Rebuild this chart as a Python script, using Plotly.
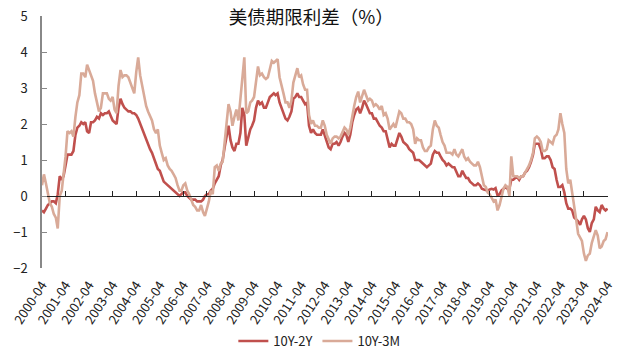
import plotly.graph_objects as go
import pandas as pd

# Monthly observations, 2000-04 .. 2024-04
dates = pd.date_range("2000-04-01", "2024-04-01", freq="MS")

spread_10y2y = [
    # 2000 Apr-Dec
    -0.40, -0.45, -0.35, -0.25, -0.20, -0.15, -0.15, -0.20, 0.05,
    # 2001
    0.55, 0.45, 0.55, 0.85, 1.15, 1.15, 1.15, 1.25, 1.70, 1.90, 1.95, 2.05,
    # 2002
    2.00, 2.05, 1.80, 1.75, 2.05, 2.05, 2.10, 2.20, 2.15, 2.30, 2.25, 2.30,
    # 2003
    2.30, 2.35, 2.25, 2.10, 2.05, 2.00, 2.45, 2.70, 2.55, 2.45, 2.40, 2.35,
    # 2004
    2.35, 2.30, 2.30, 2.25, 2.15, 2.00, 1.85, 1.75, 1.55, 1.45, 1.30, 1.20,
    # 2005
    1.05, 0.85, 0.75, 0.70, 0.55, 0.40, 0.35, 0.30, 0.25, 0.20, 0.15, 0.10,
    # 2006
    0.05, 0.00, 0.05, 0.10, 0.10, 0.00, -0.05, -0.10, -0.10, -0.10, -0.15, -0.15,
    # 2007
    -0.15, -0.10, 0.00, 0.05, 0.05, 0.15, 0.20, 0.35, 0.45, 0.55, 0.85, 1.00,
    # 2008
    1.35, 1.65, 1.95, 1.55, 1.35, 1.25, 1.45, 1.45, 1.75, 2.45, 2.25, 1.40,
    # 2009
    1.65, 1.85, 1.95, 2.10, 2.45, 2.65, 2.55, 2.60, 2.45, 2.45, 2.60, 2.75,
    # 2010
    2.80, 2.85, 2.80, 2.85, 2.60, 2.45, 2.35, 2.15, 2.10, 2.20, 2.35, 2.70,
    # 2011
    2.75, 2.85, 2.75, 2.75, 2.65, 2.55, 2.60, 1.95, 1.75, 1.85, 1.75, 1.70,
    # 2012
    1.70, 1.70, 1.85, 1.70, 1.50, 1.35, 1.30, 1.45, 1.45, 1.50, 1.40, 1.50,
    # 2013
    1.65, 1.75, 1.70, 1.50, 1.70, 2.05, 2.25, 2.40, 2.45, 2.30, 2.45, 2.65,
    # 2014
    2.55, 2.40, 2.30, 2.30, 2.15, 2.15, 2.05, 1.95, 1.90, 1.80, 1.80, 1.60,
    # 2015
    1.35, 1.45, 1.40, 1.40, 1.60, 1.75, 1.65, 1.50, 1.45, 1.40, 1.30, 1.25,
    # 2016
    1.20, 1.00, 1.00, 1.00, 0.95, 0.90, 0.85, 0.80, 0.85, 0.90, 1.15, 1.25,
    # 2017
    1.20, 1.20, 1.10, 1.00, 0.95, 0.85, 0.90, 0.85, 0.80, 0.80, 0.65, 0.55,
    # 2018
    0.55, 0.70, 0.60, 0.50, 0.50, 0.40, 0.35, 0.30, 0.30, 0.35, 0.30, 0.20,
    # 2019
    0.18, 0.17, 0.15, 0.18, 0.20, 0.18, 0.22, 0.02, 0.05, 0.15, 0.20, 0.25,
    # 2020
    0.20, 0.20, 0.45, 0.45, 0.50, 0.52, 0.45, 0.55, 0.55, 0.65, 0.70, 0.80,
    # 2021
    0.95, 1.15, 1.45, 1.45, 1.45, 1.30, 1.05, 1.05, 1.10, 1.10, 1.00, 0.80,
    # 2022
    0.75, 0.45, 0.25, 0.25, 0.30, 0.10, -0.20, -0.35, -0.35, -0.40, -0.60, -0.65,
    # 2023
    -0.70, -0.80, -0.65, -0.55, -0.65, -0.90, -1.00, -0.75, -0.65, -0.30, -0.40, -0.45,
    # 2024 Jan-Apr
    -0.25, -0.35, -0.40, -0.35,
]

spread_10y3m = [
    # 2000 Apr-Dec
    0.30, 0.60, 0.35, 0.10, -0.20, -0.30, -0.50, -0.60, -0.90,
    # 2001
    0.00, 0.15, 0.60, 1.10, 1.80, 1.75, 1.80, 1.65, 2.20, 2.60, 2.80, 3.40,
    # 2002
    3.40, 3.30, 3.65, 3.50, 3.40, 3.20, 2.85, 2.60, 2.35, 2.45, 2.85, 2.85,
    # 2003
    2.85, 2.70, 2.65, 2.75, 2.40, 2.30, 3.05, 3.50, 3.30, 3.35, 3.35, 3.30,
    # 2004
    3.15, 3.05, 2.85, 3.45, 3.85, 3.35, 3.05, 2.80, 2.50, 2.35, 2.20, 2.10,
    # 2005
    1.85, 1.75, 1.85, 1.40, 1.20, 1.00, 1.05, 0.85, 0.75, 0.70, 0.60, 0.50,
    # 2006
    0.30, 0.15, 0.15, 0.30, 0.35, 0.15, 0.05, -0.10, -0.25, -0.30, -0.40, -0.40,
    # 2007
    -0.25, -0.45, -0.55, -0.35, -0.15, 0.15, 0.05, 0.80, 0.85, 0.70, 0.90, 0.95,
    # 2008
    1.55, 2.10, 2.55, 2.35, 1.95, 2.20, 2.40, 2.10, 2.75, 3.40, 3.85, 2.30,
    # 2009
    2.35, 2.60, 2.65, 2.75, 3.15, 3.60, 3.35, 3.40, 3.30, 3.25, 3.30, 3.55,
    # 2010
    3.75, 3.70, 3.75, 3.80, 3.30, 3.10, 2.85, 2.60, 2.60, 2.45, 2.65, 3.15,
    # 2011
    3.35, 3.55, 3.30, 3.35, 3.10, 2.95, 2.95, 2.25, 2.00, 2.10, 1.95, 1.95,
    # 2012
    1.90, 1.90, 2.10, 1.95, 1.70, 1.55, 1.45, 1.60, 1.65, 1.65, 1.60, 1.65,
    # 2013
    1.80, 1.90, 1.85, 1.70, 1.90, 2.25, 2.50, 2.75, 2.90, 2.60, 2.75, 2.95,
    # 2014
    2.80, 2.65, 2.70, 2.65, 2.50, 2.55, 2.50, 2.40, 2.50, 2.25, 2.30, 2.15,
    # 2015
    1.85, 1.95, 2.00, 1.90, 2.15, 2.35, 2.30, 2.15, 2.15, 2.05, 2.05, 2.00,
    # 2016
    1.85, 1.45, 1.60, 1.55, 1.55, 1.35, 1.25, 1.25, 1.35, 1.40, 1.85, 2.10,
    # 2017
    1.95, 1.90, 1.70, 1.50, 1.40, 1.20, 1.20, 1.20, 1.15, 1.30, 1.15, 1.10,
    # 2018
    1.20, 1.30, 1.10, 1.00, 1.05, 0.95, 0.90, 0.85, 0.85, 0.95, 0.80, 0.50,
    # 2019
    0.30, 0.25, 0.10, 0.05, -0.05, -0.15, -0.10, -0.40, -0.25, -0.05, 0.20, 0.30,
    # 2020
    0.25, 0.00, 1.10, 0.55, 0.55, 0.55, 0.50, 0.55, 0.55, 0.65, 0.75, 0.85,
    # 2021
    1.00, 1.20, 1.60, 1.65, 1.60, 1.50, 1.25, 1.25, 1.30, 1.55, 1.50, 1.45,
    # 2022
    1.65, 1.70, 1.85, 2.30, 2.00, 1.75, 0.75, 0.35, 0.45, 0.05, -0.40, -0.65,
    # 2023
    -1.05, -1.15, -1.25, -1.60, -1.80, -1.65, -1.60, -1.30, -1.15, -0.95, -1.10, -1.45,
    # 2024 Jan-Apr
    -1.40, -1.25, -1.20, -1.00,
]

tick_dates = pd.date_range("2000-04-01", "2024-04-01", freq="12MS")
tick_labels = [d.strftime("%Y-%m") for d in tick_dates]

FONT = "Noto Sans CJK SC"
RED = "#C0504D"
PINK = "#D9AA98"

fig = go.Figure()
fig.add_trace(go.Scatter(x=dates, y=spread_10y2y, name="10Y-2Y", mode="lines",
                         line=dict(color=RED, width=2.6)))
fig.add_trace(go.Scatter(x=dates, y=spread_10y3m, name="10Y-3M", mode="lines",
                         line=dict(color=PINK, width=2.6)))
# invisible carrier for the zero-line axis
fig.add_trace(go.Scatter(x=[dates[0], dates[-1]], y=[None, None], xaxis="x2",
                         showlegend=False, hoverinfo="skip", mode="lines"))

x_range = ["2000-04-01", "2024-04-08"]
y_min, y_max = -2, 5

fig.update_layout(
    width=620, height=352,
    margin=dict(l=42, r=12, t=16, b=84, autoexpand=False),
    paper_bgcolor="white", plot_bgcolor="white",
    font=dict(family=FONT, size=12, color="#222"),
    title=dict(text="美债期限利差（%）", x=0.502, xanchor="center",
               y=1 - 18 / 352, yanchor="middle", yref="container",
               font=dict(family=FONT, size=18.5, color="#111")),
    xaxis=dict(type="date", range=x_range, showline=False, showgrid=False,
               zeroline=False, ticks="", tickvals=tick_dates, ticktext=tick_labels,
               tickangle=-57, automargin=False, ticklabelstandoff=6,
               tickfont=dict(size=13, color="#222")),
    xaxis2=dict(type="date", overlaying="x", matches="x", anchor="free",
                position=(0 - y_min) / (y_max - y_min), showline=True,
                linecolor="#222", linewidth=1.3, ticks="inside", ticklen=5,
                tickcolor="#222", tickwidth=1.2, tickvals=tick_dates,
                showticklabels=False, showgrid=False, zeroline=False, automargin=False),
    yaxis=dict(range=[y_min, y_max], dtick=1, showline=True, linecolor="#888",
               linewidth=1.5, ticks="inside", ticklen=5, tickcolor="#888",
               showgrid=False, zeroline=False, automargin=False,
               ticklabelstandoff=10, tickfont=dict(size=13, color="#222")),
    legend=dict(orientation="h", x=0.49, xanchor="center", y=-0.29,
                yanchor="middle", font=dict(size=13, color="#222"),
                itemwidth=30, bgcolor="rgba(0,0,0,0)"),
    showlegend=True,
)

fig.write_html("out.html")
